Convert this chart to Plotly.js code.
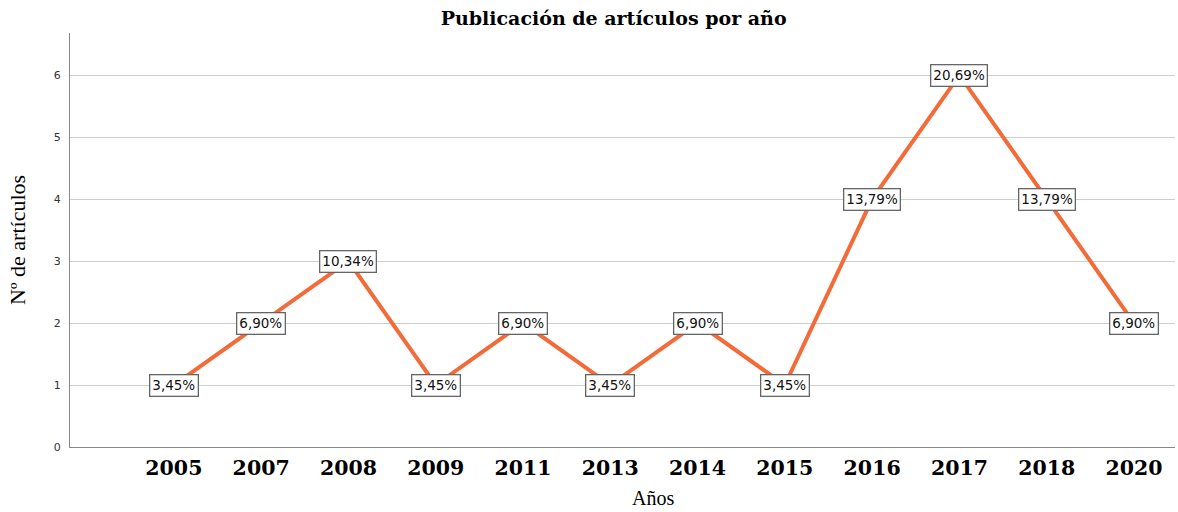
<!DOCTYPE html>
<html>
<head>
<meta charset="utf-8">
<script src="https://cdn.plot.ly/plotly-3.0.1.min.js"></script>
<style>html,body{margin:0;padding:0;background:#fff;}#chart{width:1178px;height:512px;}</style>
</head>
<body>
<div id="chart"></div>
<script>
const years = ["2005","2007","2008","2009","2011","2013","2014","2015","2016","2017","2018","2020"];
const articles = [1,2,3,1,2,1,2,1,4,6,4,2];
const percentLabels = ["3,45%","6,90%","10,34%","3,45%","6,90%","3,45%","6,90%","3,45%","13,79%","20,69%","13,79%","6,90%"];

const trace = {
  x: years, y: articles, type: "scatter", mode: "lines",
  line: {color: "#F26B38", width: 4},
  hoverinfo: "skip"
};

const annotations = years.map((yr, i) => ({
  x: i, y: articles[i], xref: "x", yref: "y",
  text: percentLabels[i], showarrow: false,
  font: {family: "DejaVu Sans", size: 13.5, color: "#111"},
  bgcolor: "#ffffff", bordercolor: "#666", borderwidth: 1.3, borderpad: 2
}));
annotations.push({
  xref: "paper", yref: "paper", x: 0.528, y: 0, yshift: -51, yanchor: "middle",
  text: "Años", showarrow: false, borderpad: 0,
  font: {family: "Liberation Serif", size: 20, color: "#000"}
});

const layout = {
  width: 1178, height: 512,
  margin: {l: 70, r: 3, t: 33, b: 65},
  paper_bgcolor: "#fff", plot_bgcolor: "#fff",
  showlegend: false,
  title: {text: "<b>Publicación de artículos por año</b>", x: 0.492, xref: "paper", y: 0.965, yanchor: "middle",
          font: {family: "DejaVu Serif", size: 19, color: "#000"}},
  xaxis: {
    type: "category", range: [-1.19, 11.47],
    showgrid: false, zeroline: false,
    showline: true, linecolor: "#888", linewidth: 1,
    ticks: "", tickfont: {family: "DejaVu Serif", size: 20.5, color: "#000", weight: "bold"},
    ticklabelstandoff: 2
  },
  yaxis: {
    range: [0, 6.68], dtick: 1, tick0: 0,
    showgrid: true, gridcolor: "#cfcfcf", gridwidth: 1,
    zeroline: false, showline: true, linecolor: "#888", linewidth: 1,
    ticks: "", tickfont: {family: "DejaVu Sans", size: 11, color: "#333"},
    ticklabelstandoff: 6,
    title: {text: "Nº de artículos", font: {family: "Liberation Serif", size: 22, color: "#000"}, standoff: 22}
  },
  annotations: annotations
};

Plotly.newPlot("chart", [trace], layout, {displayModeBar: false, staticPlot: true});
</script>
</body>
</html>
